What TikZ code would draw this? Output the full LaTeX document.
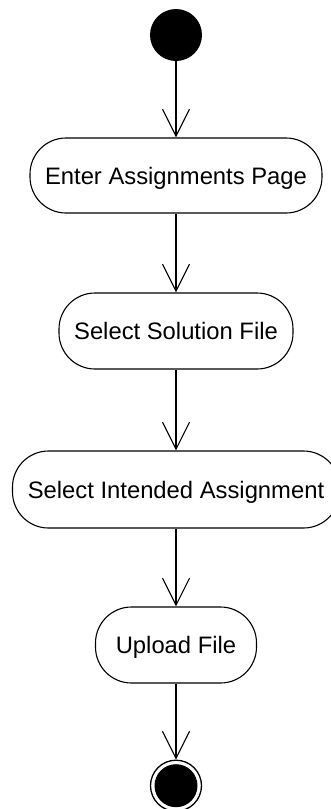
\documentclass[tikz,border=0pt]{standalone}
\usepackage{fontspec}
\setmainfont{Liberation Sans}
\usetikzlibrary{arrows.meta}
\begin{document}
\begin{tikzpicture}[x=1pt,y=-1pt,
  actbox/.style={draw,line width=1.1pt,rounded corners=36pt,inner sep=0pt,
    text height=17pt,text depth=0pt,font=\fontsize{23.8}{28}\selectfont},
  arr/.style={line width=1.1pt,-{Straight Barb[length=27pt,width=27pt,line width=1.1pt]}}]
\useasboundingbox (0,0) rectangle (330,809);
\node[circle,fill=black,minimum size=52pt,inner sep=0pt] (start) at (176,35) {};
\node[actbox,minimum width=292pt,minimum height=75pt] (n1) at (176,175.5) {Enter Assignments Page};
\node[actbox,minimum width=234pt,minimum height=76pt] (n2) at (176,331) {Select Solution File};
\node[actbox,minimum width=327pt,minimum height=77pt] (n3) at (176,489.5) {Select Intended Assignment};
\node[actbox,minimum width=161pt,minimum height=76pt] (n4) at (176,645) {Upload File};
\node[circle,draw,line width=1.3pt,minimum size=51pt,inner sep=0pt] (end) at (176,785.7) {};
\node[circle,fill=black,minimum size=43pt,inner sep=0pt] (endin) at (176,785.7) {};
\draw[arr] (start) -- (n1);
\draw[arr] (n1) -- (n2);
\draw[arr] (n2) -- (n3);
\draw[arr] (n3) -- (n4);
\draw[arr] (n4) -- (end);
\end{tikzpicture}
\end{document}
